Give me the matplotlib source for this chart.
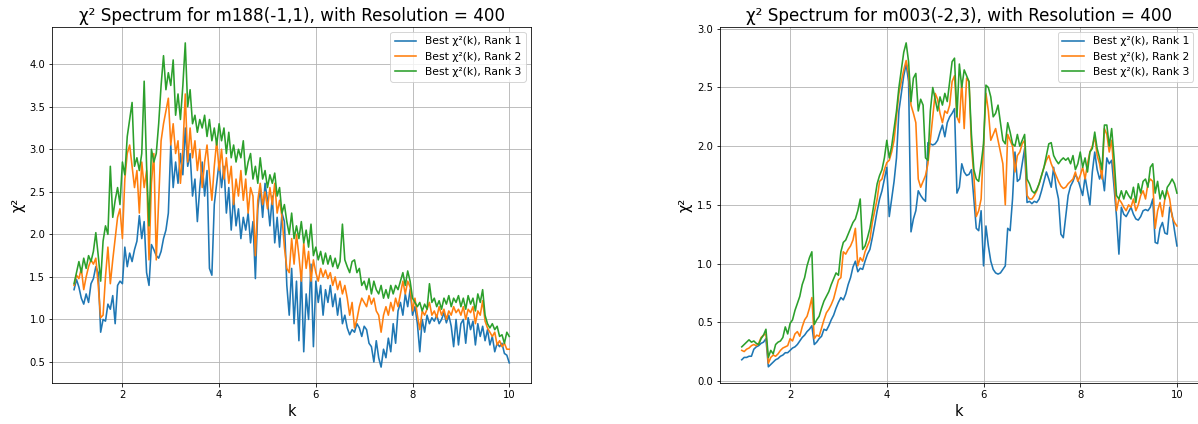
import numpy as np
import matplotlib
matplotlib.use('Agg')
import matplotlib.pyplot as plt

resolution = 400
k_min, k_max = 1.0, 10.0

m188_rank1 = [
    1.35, 1.47, 1.38, 1.25, 1.18, 1.30, 1.20, 1.42, 1.48, 1.62, 1.55, 0.85, 1.00, 0.98, 1.18, 1.12, 1.28, 0.95, 1.40, 1.45,
    1.42, 1.85, 1.62, 1.78, 1.68, 1.82, 1.92, 2.22, 1.95, 2.15, 1.55, 1.40, 1.88, 1.82, 1.75, 1.72, 1.80, 1.95, 2.05, 2.25,
    3.05, 2.55, 2.85, 2.60, 2.95, 2.70, 3.25, 2.80, 2.95, 2.45, 2.65, 2.15, 2.55, 2.85, 2.45, 2.75, 1.60, 1.52, 2.35, 2.60,
    2.85, 2.55, 2.80, 2.25, 2.55, 2.05, 2.45, 2.10, 2.30, 1.95, 2.20, 2.05, 2.25, 1.90, 2.15, 1.48, 2.30, 2.55, 2.20, 2.60,
    2.40, 2.10, 2.45, 1.90, 2.20, 1.85, 2.25, 2.15, 1.40, 1.05, 1.60, 0.95, 1.45, 0.75, 1.55, 0.62, 1.30, 1.00, 1.65, 0.68,
    1.45, 1.20, 1.40, 1.05, 1.35, 1.20, 1.40, 1.15, 1.30, 1.05, 1.25, 0.95, 1.05, 0.90, 0.82, 0.88, 0.85, 0.95, 0.90, 0.80,
    0.92, 0.88, 0.72, 0.68, 0.50, 0.75, 0.55, 0.44, 0.65, 0.55, 0.78, 0.62, 0.95, 0.72, 1.10, 1.20, 1.05, 1.30, 1.15, 1.35,
    1.05, 1.15, 0.95, 0.62, 1.00, 0.85, 1.05, 0.95, 1.02, 0.98, 1.05, 0.95, 1.00, 1.08, 0.96, 1.05, 0.92, 0.68, 1.00, 0.70,
    0.95, 1.00, 0.72, 1.02, 0.88, 0.98, 0.70, 0.95, 0.80, 0.92, 0.75, 0.88, 0.70, 0.80, 0.62, 0.72, 0.68, 0.72, 0.60, 0.58,
    0.49]
m188_rank2 = [
    1.40, 1.52, 1.48, 1.60, 1.35, 1.50, 1.62, 1.70, 1.65, 1.72, 1.40, 1.02, 1.05, 1.50, 1.85, 1.42, 1.70, 1.95, 2.20, 2.30,
    1.95, 2.65, 2.95, 3.05, 2.80, 2.55, 2.75, 2.25, 2.85, 2.55, 2.75, 1.70, 2.60, 2.95, 1.70, 2.40, 3.10, 3.30, 3.45, 3.60,
    3.05, 3.30, 2.95, 3.10, 2.60, 3.00, 3.65, 2.85, 3.25, 2.90, 3.10, 2.75, 3.00, 2.55, 2.85, 3.05, 2.70, 2.40, 2.80, 3.10,
    2.75, 3.00, 2.65, 2.90, 2.60, 2.80, 2.35, 2.65, 2.45, 2.75, 2.40, 2.65, 2.25, 2.55, 2.45, 1.75, 2.40, 2.60, 2.35, 2.50,
    2.30, 2.55, 2.35, 2.60, 2.25, 2.40, 2.20, 1.85, 1.60, 1.55, 1.95, 1.65, 2.00, 1.75, 1.45, 1.90, 1.60, 1.80, 1.45, 1.70,
    1.55, 1.45, 1.60, 1.50, 1.58, 1.48, 1.55, 1.40, 1.50, 1.35, 1.45, 1.30, 1.40, 1.25, 1.05, 1.20, 0.90, 1.00, 1.15, 1.25,
    1.20, 1.15, 1.28, 1.18, 1.25, 1.10, 1.05, 0.85, 1.05, 1.15, 1.05, 1.20, 1.10, 1.25, 1.15, 1.30, 1.45, 1.30, 1.45, 1.38,
    1.10, 1.25, 1.05, 0.88, 1.10, 1.05, 1.12, 1.20, 1.05, 1.10, 1.02, 1.15, 1.05, 1.12, 1.00, 1.10, 1.05, 1.15, 1.08, 1.12,
    1.05, 1.15, 1.00, 1.12, 1.08, 1.15, 0.95, 1.10, 1.05, 1.22, 0.98, 0.90, 0.85, 0.80, 0.85, 0.70, 0.75, 0.68, 0.72, 0.65,
    0.65]
m188_rank3 = [
    1.42, 1.55, 1.68, 1.55, 1.72, 1.60, 1.75, 1.68, 1.80, 2.02, 1.75, 1.45, 1.92, 2.10, 2.00, 2.80, 2.20, 2.40, 2.55, 2.35,
    2.85, 2.70, 3.15, 3.35, 3.55, 2.80, 2.90, 2.75, 2.95, 3.80, 2.80, 2.10, 3.00, 2.85, 2.95, 3.30, 3.75, 4.10, 3.70, 3.90,
    3.75, 4.05, 3.40, 3.65, 3.35, 3.75, 4.25, 3.50, 3.70, 3.30, 3.40, 3.20, 3.35, 3.25, 3.40, 3.15, 3.35, 3.10, 3.25, 3.05,
    3.30, 3.10, 3.25, 2.95, 3.20, 2.90, 3.05, 2.85, 3.00, 2.90, 3.10, 2.70, 2.85, 2.95, 2.65, 2.80, 2.60, 2.90, 2.65, 2.75,
    2.55, 2.70, 2.60, 2.72, 2.45, 2.55, 2.25, 2.35, 2.15, 2.00, 2.25, 1.95, 2.10, 1.95, 2.15, 1.90, 2.05, 1.85, 2.12, 1.75,
    1.85, 1.70, 1.80, 1.65, 1.78, 1.65, 1.75, 1.62, 1.72, 1.60, 1.68, 2.12, 1.70, 1.62, 1.55, 1.68, 1.70, 1.55, 1.60, 1.40,
    1.45, 1.35, 1.48, 1.30, 1.45, 1.35, 1.30, 1.40, 1.25, 1.35, 1.25, 1.40, 1.30, 1.40, 1.35, 1.45, 1.55, 1.40, 1.57, 1.45,
    1.25, 1.20, 1.15, 1.20, 1.10, 1.18, 1.12, 1.42, 1.20, 1.25, 1.15, 1.22, 1.12, 1.25, 1.18, 1.28, 1.15, 1.25, 1.20, 1.28,
    1.15, 1.25, 1.12, 1.28, 1.18, 1.25, 1.10, 1.30, 1.20, 1.35, 1.05, 0.95, 0.90, 0.95, 0.88, 0.92, 0.80, 0.82, 0.72, 0.85,
    0.80]

m003_rank1 = [
    0.18, 0.20, 0.20, 0.21, 0.21, 0.27, 0.29, 0.30, 0.32, 0.33, 0.36, 0.12, 0.14, 0.16, 0.18, 0.19, 0.21, 0.22, 0.24, 0.24,
    0.26, 0.28, 0.29, 0.31, 0.34, 0.37, 0.39, 0.42, 0.44, 0.47, 0.31, 0.33, 0.36, 0.38, 0.44, 0.43, 0.47, 0.52, 0.56, 0.62,
    0.67, 0.71, 0.69, 0.74, 0.82, 0.88, 0.97, 1.02, 0.93, 0.96, 0.95, 1.02, 1.08, 1.12, 1.22, 1.33, 1.45, 1.55, 1.62, 1.72,
    1.82, 1.40, 1.55, 1.70, 1.90, 2.30, 2.45, 2.60, 2.70, 2.55, 1.27, 1.38, 1.45, 1.62, 1.58, 1.55, 1.53, 2.03, 2.02, 2.01,
    2.02, 2.05, 2.12, 2.18, 2.08, 2.20, 2.25, 2.28, 2.32, 1.60, 1.65, 1.85, 1.78, 1.75, 1.76, 1.80, 1.55, 1.30, 1.28, 1.45,
    0.98, 1.32, 1.15, 1.02, 0.95, 0.92, 0.91, 0.92, 0.95, 0.98, 1.30, 1.28, 1.55, 1.95, 1.70, 1.72, 1.85, 1.98, 1.52, 1.53,
    1.51, 1.53, 1.52, 1.55, 1.62, 1.70, 1.78, 1.72, 1.65, 1.82, 1.65, 1.55, 1.25, 1.22, 1.40, 1.58, 1.66, 1.70, 1.76, 1.72,
    1.65, 1.58, 1.74, 1.62, 1.50, 1.78, 1.95, 1.80, 1.72, 1.78, 1.62, 1.90, 1.85, 1.88, 1.65, 1.40, 1.08, 1.48, 1.42, 1.40,
    1.44, 1.48, 1.42, 1.38, 1.37, 1.40, 1.45, 1.46, 1.45, 1.48, 1.55, 1.18, 1.17, 1.30, 1.35, 1.26, 1.25, 1.48, 1.42, 1.28,
    1.15]
m003_rank2 = [
    0.26, 0.25, 0.27, 0.28, 0.30, 0.31, 0.30, 0.32, 0.37, 0.39, 0.40, 0.15, 0.20, 0.22, 0.21, 0.23, 0.26, 0.28, 0.29, 0.30,
    0.36, 0.34, 0.40, 0.42, 0.38, 0.46, 0.52, 0.55, 0.62, 0.71, 0.36, 0.39, 0.38, 0.45, 0.52, 0.58, 0.61, 0.65, 0.70, 0.78,
    0.86, 0.88, 1.10, 1.08, 1.12, 1.15, 1.20, 1.30, 0.98, 1.05, 1.02, 1.10, 1.15, 1.20, 1.35, 1.45, 1.55, 1.70, 1.72, 1.80,
    1.86, 1.88, 1.95, 2.05, 2.25, 2.45, 2.55, 2.65, 2.73, 2.62, 2.35, 2.28, 2.20, 1.72, 1.65, 1.70, 1.75, 1.85, 2.05, 2.25,
    2.45, 2.40, 2.28, 2.20, 2.30, 2.28, 2.35, 2.55, 2.60, 2.25, 2.20, 2.55, 2.15, 2.58, 2.55, 2.00, 1.75, 1.40, 1.45, 1.55,
    2.00, 2.45, 2.30, 2.05, 2.10, 2.15, 2.05, 1.95, 1.85, 1.50, 2.10, 2.05, 2.00, 1.78, 1.92, 1.95, 2.02, 2.05, 1.58, 1.55,
    1.55, 1.58, 1.62, 1.68, 1.75, 1.82, 1.88, 1.92, 1.85, 1.80, 1.75, 1.70, 1.66, 1.64, 1.65, 1.68, 1.70, 1.72, 1.78, 1.70,
    1.75, 1.82, 1.72, 1.85, 1.95, 2.00, 2.08, 1.92, 1.85, 1.72, 2.15, 2.10, 1.95, 2.05, 1.75, 1.45, 1.55, 1.52, 1.48, 1.45,
    1.50, 1.48, 1.55, 1.45, 1.50, 1.58, 1.62, 1.55, 1.68, 1.72, 1.70, 1.30, 1.45, 1.52, 1.40, 1.55, 1.62, 1.55, 1.40, 1.35,
    1.32]
m003_rank3 = [
    0.29, 0.31, 0.33, 0.35, 0.33, 0.34, 0.32, 0.31, 0.36, 0.39, 0.44, 0.20, 0.26, 0.23, 0.31, 0.33, 0.34, 0.37, 0.46, 0.40,
    0.49, 0.52, 0.60, 0.66, 0.72, 0.82, 0.88, 0.98, 1.05, 1.10, 0.48, 0.52, 0.55, 0.62, 0.68, 0.72, 0.76, 0.82, 0.87, 0.92,
    0.90, 1.10, 1.18, 1.20, 1.25, 1.30, 1.35, 1.38, 1.45, 1.55, 1.12, 1.15, 1.22, 1.30, 1.42, 1.55, 1.68, 1.75, 1.80, 1.90,
    2.05, 1.90, 2.00, 2.15, 2.30, 2.50, 2.65, 2.80, 2.88, 2.72, 2.38, 2.58, 2.62, 2.30, 2.40, 2.35, 1.90, 1.88, 2.30, 2.50,
    2.40, 2.30, 2.42, 2.35, 2.45, 2.38, 2.55, 2.72, 2.75, 2.25, 2.70, 2.50, 2.65, 2.60, 2.55, 2.10, 1.80, 1.72, 1.70, 1.85,
    2.02, 2.52, 2.50, 2.42, 2.25, 2.28, 2.35, 2.20, 2.05, 2.02, 2.20, 2.12, 2.02, 2.00, 2.10, 2.00, 2.05, 2.10, 1.72, 1.68,
    1.62, 1.60, 1.63, 1.68, 1.75, 1.82, 1.92, 2.02, 2.03, 1.92, 1.88, 1.85, 1.88, 1.90, 1.88, 1.90, 1.85, 1.92, 1.80, 1.85,
    1.95, 1.82, 1.90, 1.78, 1.95, 1.98, 2.12, 1.98, 1.90, 1.80, 2.18, 2.18, 2.00, 2.15, 1.90, 1.58, 1.55, 1.62, 1.55, 1.62,
    1.58, 1.55, 1.65, 1.52, 1.68, 1.60, 1.70, 1.72, 1.65, 1.82, 1.85, 1.60, 1.70, 1.55, 1.62, 1.55, 1.65, 1.68, 1.72, 1.68,
    1.60]

panels = [
    ('m188(-1,1)', [m188_rank1, m188_rank2, m188_rank3]),
    ('m003(-2,3)', [m003_rank1, m003_rank2, m003_rank3]),
]

# --- Plotting:

W, H = 1198, 424
fig = plt.figure(figsize=(W / 72, H / 72), dpi=72)

# axes boxes in pixels: left, top, right, bottom
boxes = [(52.3, 26.7, 531.0, 383.3), (720.0, 26.7, 1198.7, 383.0)]

for (name, series), (x0, y0, x1, y1) in zip(panels, boxes):
    ax = fig.add_axes([x0 / W, 1 - y1 / H, (x1 - x0) / W, (y1 - y0) / H])
    for rank, values in enumerate(series, start=1):
        k = np.linspace(k_min, k_max, len(values))
        ax.plot(k, values, lw=1.6, label=f'Best χ²(k), Rank {rank}')
    ax.set_title(f'χ² Spectrum for {name}, with Resolution = {resolution}', fontsize=16.8)
    ax.set_xlabel('k', fontsize=14.5)
    ax.set_ylabel('χ²', fontsize=14.5)
    ax.tick_params(labelsize=10)
    ax.grid(True)
    ax.legend(loc='upper right', fontsize=10.8)

fig.savefig('out.png', dpi=72)
